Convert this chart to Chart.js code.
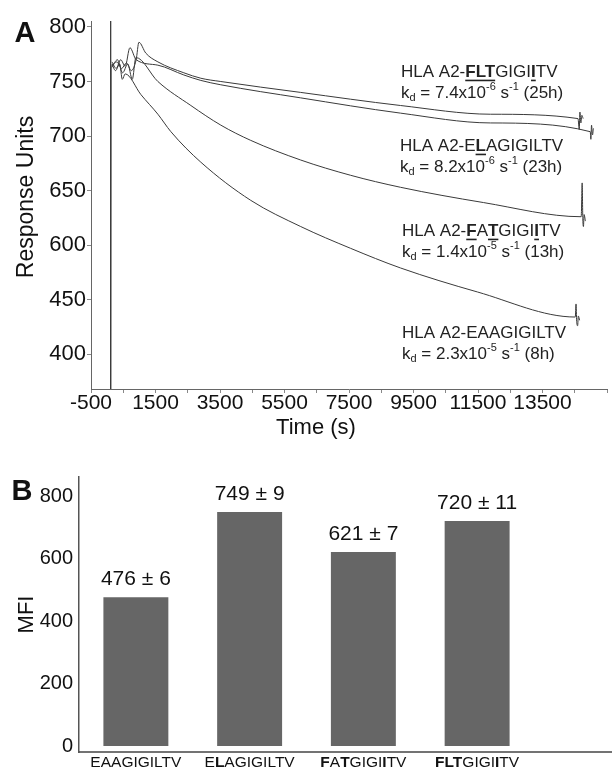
<!DOCTYPE html>
<html>
<head>
<meta charset="utf-8">
<script src="https://cdn.jsdelivr.net/npm/chart.js@4.4.1/dist/chart.umd.min.js"></script>
<style>
  body { margin: 0; background: #fff; }
  #wrap { position: relative; width: 612px; height: 771px; }
  canvas { position: absolute; left: 0; }
  #kinetics { top: 0; }
  #mfi { top: 440px; }
</style>
</head>
<body>
<div id="wrap">
  <canvas id="kinetics" width="612" height="440"></canvas>
  <canvas id="mfi" width="612" height="331"></canvas>
</div>
<script>
const FONT = "'Liberation Sans', Arial, Helvetica, sans-serif";

// Panel A - dissociation curves (time in s, response units)
const timeTicks = [-500, 500, 1500, 2500, 3500, 4500, 5500, 6500, 7500, 8500, 9500, 10500, 11500, 12500, 13500, 14500, 15500];
const ruTicks = [800, 750, 700, 650, 600, 550, 500];
const ruTickLabels = ['800', '750', '700', '650', '600', '450', '400'];

const spikeTime = [95, 108, 112, 122];
const spikeRU = [462, 806, 462, 765];

const fltTime = [150, 300, 450, 600, 750, 900, 986, 1200, 1574, 2379, 2906, 3525, 6002, 9098, 11884, 14600, 14640, 14660, 14690, 14720, 14760];
const fltRU = [765, 768, 762, 767, 760, 770, 786, 776, 768, 758, 753, 750, 740, 728, 720, 716, 706, 722, 712, 719, 716];

const elaTime = [150, 280, 420, 560, 707, 900, 1574, 2379, 2906, 3525, 6002, 9098, 11884, 14980, 15000, 15020, 15050, 15080];
const elaRU = [768, 762, 770, 764, 781, 770, 765, 756, 751, 747, 735, 721, 712, 704, 697, 710, 701, 707];

const fatTime = [150, 320, 480, 640, 780, 893, 1574, 2596, 3525, 4454, 6002, 7550, 9098, 11667, 14700, 14730, 14750, 14770, 14790, 14830];
const fatRU = [763, 770, 758, 766, 752, 772, 750, 728, 710, 696, 678, 664, 653, 639, 626, 657, 624, 617, 628, 622];

const eaaTime = [150, 260, 390, 470, 560, 1048, 1574, 1977, 2906, 4454, 6002, 7550, 9098, 11482, 14516, 14540, 14560, 14590, 14610, 14650];
const eaaRU = [766, 760, 766, 752, 757, 738, 720, 704, 676, 641, 617, 597, 579, 557, 534, 546, 530, 526, 535, 531];

const kdMant = ['7.4x10', '8.2x10', '1.4x10', '2.3x10'];
const kdExp = ['-6', '-6', '-5', '-5'];
const halfLife = ['25h', '23h', '13h', '8h'];

// Panel B - MFI bars
const mfiMean = [476, 749, 621, 720];
const mfiErr = [6, 9, 7, 11];
const mfiTicks = [0, 200, 400, 600, 800];

// peptide names, 'b' = bold residue
const peptides = [
  [['EAAGIGILTV', 'n']],
  [['E', 'n'], ['L', 'b'], ['AGIGILTV', 'n']],
  [['F', 'b'], ['A', 'n'], ['T', 'b'], ['GIGI', 'n'], ['I', 'b'], ['TV', 'n']],
  [['FLT', 'b'], ['GIGI', 'n'], ['I', 'b'], ['TV', 'n']]
];
const curveOrder = [3, 1, 2, 0]; // label order top to bottom in panel A

function toPoints(t, v) {
  return t.map((x, i) => ({ x: x, y: v[i] }));
}

function drawRich(ctx, x, y, segs, size, align, underline) {
  const fontFor = s => (s === 'b' ? 'bold ' : '') +
    ((s === 'sub' || s === 'sup') ? Math.round(size * 0.62) : size) + 'px ' + FONT;
  let w = 0;
  segs.forEach(([t, s]) => { ctx.font = fontFor(s); w += ctx.measureText(t).width; });
  let cx = align === 'center' ? x - w / 2 : x;
  ctx.textAlign = 'left';
  ctx.textBaseline = 'middle';
  segs.forEach(([t, s]) => {
    ctx.font = fontFor(s);
    const tw = ctx.measureText(t).width;
    const dy = s === 'sub' ? size * 0.3 : (s === 'sup' ? -size * 0.33 : 0);
    ctx.fillText(t, cx, y + dy);
    if (s === 'b' && underline) ctx.fillRect(cx, y + size * 0.45, tw, 1.6);
    cx += tw;
  });
}

const annotPos = [[401, 72], [400, 146], [402, 231], [402, 333]];

const decorA = {
  id: 'decorA',
  afterDraw(chart) {
    const ctx = chart.ctx;
    ctx.save();
    ctx.fillStyle = '#111';
    ctx.font = 'bold 29px ' + FONT;
    ctx.textAlign = 'center';
    ctx.textBaseline = 'middle';
    ctx.fillText('A', 25, 34);

    ctx.font = '23px ' + FONT;
    ctx.save();
    ctx.translate(27, 197);
    ctx.rotate(-Math.PI / 2);
    ctx.fillText('Response Units', 0, 0);
    ctx.restore();

    ctx.font = '22px ' + FONT;
    ctx.fillText('Time (s)', 316, 428);

    ctx.fillStyle = '#222';
    curveOrder.forEach((p, i) => {
      const [x, y] = annotPos[i];
      drawRich(ctx, x, y, [['HLA A2-', 'n']].concat(peptides[p]), 17, 'left', true);
      drawRich(ctx, x, y + 21, [['k', 'n'], ['d', 'sub'], [' = ' + kdMant[i], 'n'], [kdExp[i], 'sup'],
        [' s', 'n'], ['-1', 'sup'], [' (' + halfLife[i] + ')', 'n']], 17, 'left', false);
    });
    ctx.restore();
  }
};

const lineStyle = { borderColor: '#3a3a3a', borderWidth: 1, pointRadius: 0, cubicInterpolationMode: 'monotone', fill: false };

new Chart(document.getElementById('kinetics'), {
  type: 'line',
  data: {
    datasets: [
      Object.assign({ data: toPoints(spikeTime, spikeRU) }, lineStyle, { cubicInterpolationMode: 'default', tension: 0 }),
      Object.assign({ data: toPoints(fltTime, fltRU) }, lineStyle),
      Object.assign({ data: toPoints(elaTime, elaRU) }, lineStyle),
      Object.assign({ data: toPoints(fatTime, fatRU) }, lineStyle),
      Object.assign({ data: toPoints(eaaTime, eaaRU) }, lineStyle)
    ]
  },
  options: {
    responsive: false,
    animation: false,
    events: [],
    layout: { padding: { top: 21, right: 5, left: 0, bottom: 0 } },
    plugins: { legend: { display: false }, tooltip: { enabled: false } },
    scales: {
      x: {
        type: 'linear',
        min: -500,
        max: 15500,
        afterBuildTicks: s => { s.ticks = timeTicks.map(v => ({ value: v })); },
        afterFit: s => { s.height = 51; },
        ticks: {
          autoSkip: false,
          maxRotation: 0,
          padding: -2,
          color: '#111',
          font: { family: FONT, size: 21 },
          callback: v => ((v + 500) % 2000 === 0 && v <= 13500) ? String(v) : ''
        },
        grid: { drawOnChartArea: false, tickLength: 4, color: '#888' },
        border: { color: '#666', width: 1 }
      },
      y: {
        min: 468,
        max: 805.5,
        afterBuildTicks: s => { s.ticks = ruTicks.map(v => ({ value: v })); },
        afterFit: s => { s.width = 91; },
        ticks: {
          padding: 1,
          color: '#111',
          font: { family: FONT, size: 22 },
          callback: v => ruTickLabels[ruTicks.indexOf(v)]
        },
        grid: { drawOnChartArea: false, tickLength: 4, color: '#888' },
        border: { color: '#666', width: 1 }
      }
    }
  },
  plugins: [decorA]
});

const decorB = {
  id: 'decorB',
  afterDraw(chart) {
    const ctx = chart.ctx;
    const xs = chart.scales.x;
    const ys = chart.scales.y;
    const area = chart.chartArea;
    ctx.save();
    ctx.strokeStyle = '#444';
    ctx.lineWidth = 1.5;
    ctx.beginPath();
    ctx.moveTo(area.left, area.bottom);
    ctx.lineTo(612, area.bottom);
    ctx.stroke();

    ctx.fillStyle = '#111';
    ctx.font = 'bold 29px ' + FONT;
    ctx.textAlign = 'center';
    ctx.textBaseline = 'middle';
    ctx.fillText('B', 22, 52);

    mfiMean.forEach((v, i) => {
      const cx = xs.getPixelForValue(i);
      ctx.font = '21px ' + FONT;
      ctx.textAlign = 'center';
      ctx.textBaseline = 'middle';
      ctx.fillText(v + ' \u00b1 ' + mfiErr[i], cx, ys.getPixelForValue(v) - 18);
      drawRich(ctx, cx, area.bottom + 11, peptides[i], 15.5, 'center', false);
    });
    ctx.restore();
  }
};

new Chart(document.getElementById('mfi'), {
  type: 'bar',
  data: {
    labels: ['EAAGIGILTV', 'ELAGIGILTV', 'FATGIGIITV', 'FLTGIGIITV'],
    datasets: [{
      data: mfiMean,
      backgroundColor: '#666666',
      barPercentage: 0.571,
      categoryPercentage: 1
    }]
  },
  options: {
    responsive: false,
    animation: false,
    events: [],
    layout: { padding: { top: 37, right: 78, left: 0, bottom: 0 } },
    plugins: { legend: { display: false }, tooltip: { enabled: false } },
    scales: {
      x: {
        ticks: { display: false },
        grid: { display: false, drawTicks: false },
        border: { display: false },
        afterFit: s => { s.height = 19; }
      },
      y: {
        min: -19,
        max: 861,
        afterBuildTicks: s => { s.ticks = mfiTicks.map(v => ({ value: v })); },
        afterFit: s => { s.width = 79; },
        ticks: { padding: 6, color: '#111', font: { family: FONT, size: 20 } },
        grid: { display: false, drawTicks: false },
        border: { color: '#555', width: 1.5 },
        title: { display: true, text: 'MFI', color: '#111', font: { family: FONT, size: 22 }, padding: { top: 14, bottom: 0 } }
      }
    }
  },
  plugins: [decorB]
});
</script>
</body>
</html>
